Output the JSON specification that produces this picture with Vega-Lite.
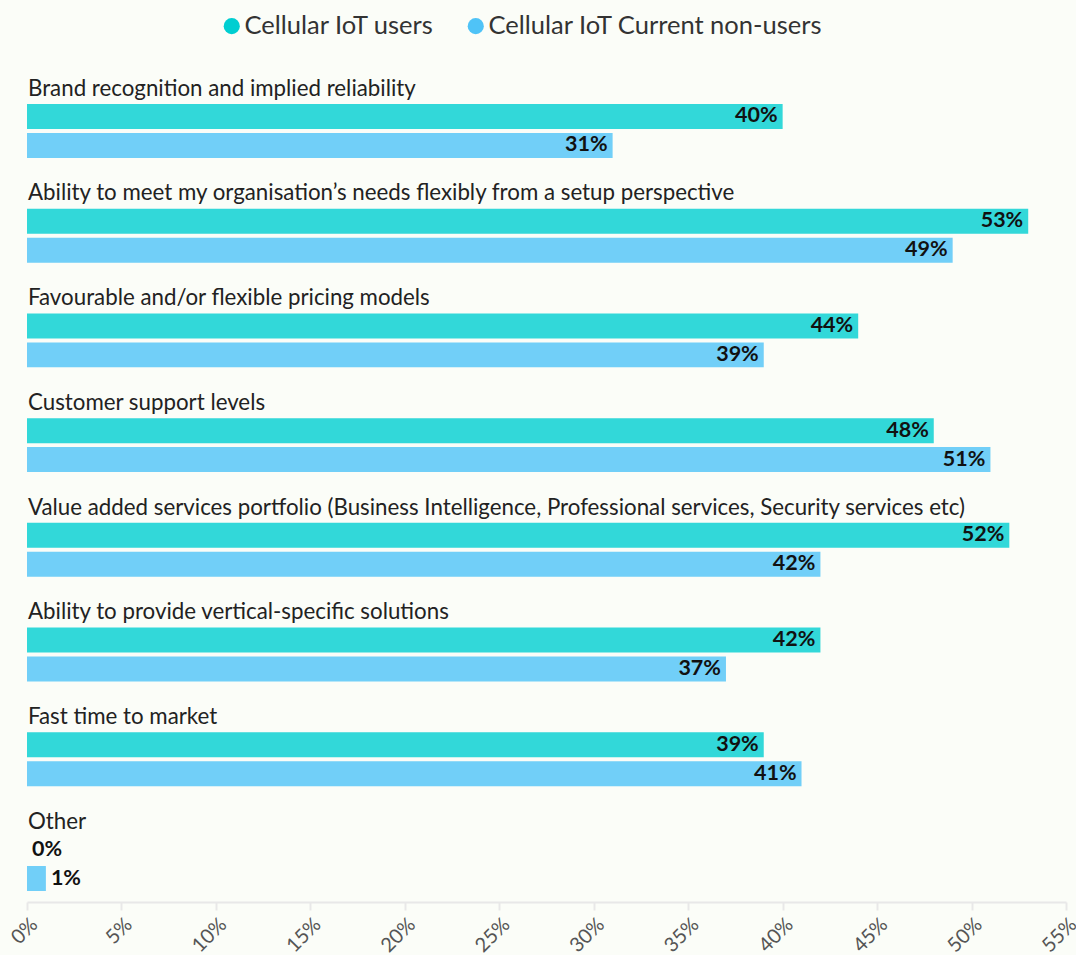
{
  "$schema": "https://vega.github.io/schema/vega-lite/v6.json",
  "width": 1039,
  "height": 820,
  "autosize": {"type": "none"},
  "padding": {"top": 73, "left": 27, "right": 10, "bottom": 62},
  "background": "#fbfdf8",
  "config": {"view": {"stroke": null}, "font": "Lato"},
  "data": {
    "values": [
      {"cat": "Brand recognition and implied reliability", "series": "Cellular IoT users", "value": 0.40},
      {"cat": "Brand recognition and implied reliability", "series": "Cellular IoT Current non-users", "value": 0.31},
      {"cat": "Ability to meet my organisation’s needs flexibly from a setup perspective", "series": "Cellular IoT users", "value": 0.53},
      {"cat": "Ability to meet my organisation’s needs flexibly from a setup perspective", "series": "Cellular IoT Current non-users", "value": 0.49},
      {"cat": "Favourable and/or flexible pricing models", "series": "Cellular IoT users", "value": 0.44},
      {"cat": "Favourable and/or flexible pricing models", "series": "Cellular IoT Current non-users", "value": 0.39},
      {"cat": "Customer support levels", "series": "Cellular IoT users", "value": 0.48},
      {"cat": "Customer support levels", "series": "Cellular IoT Current non-users", "value": 0.51},
      {"cat": "Value added services portfolio (Business Intelligence, Professional services, Security services etc)", "series": "Cellular IoT users", "value": 0.52},
      {"cat": "Value added services portfolio (Business Intelligence, Professional services, Security services etc)", "series": "Cellular IoT Current non-users", "value": 0.42},
      {"cat": "Ability to provide vertical-specific solutions", "series": "Cellular IoT users", "value": 0.42},
      {"cat": "Ability to provide vertical-specific solutions", "series": "Cellular IoT Current non-users", "value": 0.37},
      {"cat": "Fast time to market", "series": "Cellular IoT users", "value": 0.39},
      {"cat": "Fast time to market", "series": "Cellular IoT Current non-users", "value": 0.41},
      {"cat": "Other", "series": "Cellular IoT users", "value": 0.0},
      {"cat": "Other", "series": "Cellular IoT Current non-users", "value": 0.01}
    ]
  },
  "encoding": {
    "y": {"field": "cat", "type": "nominal", "sort": null, "axis": null,
      "scale": {"paddingInner": 0.17, "paddingOuter": 0}}
  },
  "layer": [
    {
      "mark": {"type": "bar", "opacity": 0.8},
      "encoding": {
        "x": {"field": "value", "type": "quantitative",
          "scale": {"domain": [0, 0.55], "nice": false},
          "axis": {"values": [0, 0.05, 0.1, 0.15, 0.2, 0.25, 0.3, 0.35, 0.4, 0.45, 0.5, 0.55],
            "format": ".0%", "title": null, "grid": false, "offset": 9,
            "domainColor": "#e8e8e8", "domainWidth": 2, "tickColor": "#e8e8e8", "tickWidth": 2, "tickSize": 8,
            "labelAngle": -45, "labelFontSize": 20, "labelColor": "#555555", "labelFont": "Lato", "labelPadding": 4, "labelDx": -4}},
        "yOffset": {"field": "series", "type": "nominal",
          "scale": {"domain": ["label", "Cellular IoT users", "Cellular IoT Current non-users"], "paddingInner": 0.138, "paddingOuter": 0.069}},
        "color": {"field": "series", "type": "nominal",
          "scale": {"domain": ["Cellular IoT users", "Cellular IoT Current non-users"], "range": ["#00CED1", "#4FC3F7"]},
          "legend": {"title": null, "orient": "none", "legendX": 192, "legendY": -60, "direction": "horizontal",
            "symbolType": "circle", "symbolSize": 260, "symbolOpacity": 1, "labelFontSize": 25.5, "labelFont": "Lato",
            "labelColor": "#333333", "columnPadding": 28, "labelOffset": 0, "labelLimit": 600}}
      }
    },
    {
      "transform": [{"filter": "datum.value >= 0.05"}],
      "mark": {"type": "text", "align": "right", "dx": -5, "baseline": "middle", "fontSize": 21.5, "fontWeight": "bold", "color": "#111111"},
      "encoding": {
        "x": {"field": "value", "type": "quantitative"},
        "yOffset": {"field": "series", "type": "nominal"},
        "text": {"field": "value", "type": "quantitative", "format": ".0%"}
      }
    },
    {
      "transform": [{"filter": "datum.value < 0.05"}],
      "mark": {"type": "text", "align": "left", "dx": 5, "baseline": "middle", "fontSize": 21.5, "fontWeight": "bold", "color": "#111111"},
      "encoding": {
        "x": {"field": "value", "type": "quantitative"},
        "yOffset": {"field": "series", "type": "nominal"},
        "text": {"field": "value", "type": "quantitative", "format": ".0%"}
      }
    },
    {
      "transform": [{"filter": "datum.series == 'Cellular IoT users'"}],
      "mark": {"type": "text", "align": "left", "dx": 1, "baseline": "middle", "fontSize": 22.3, "color": "#222222"},
      "encoding": {
        "x": {"datum": 0, "type": "quantitative"},
        "y": {"field": "cat", "type": "nominal", "sort": null, "bandPosition": 0.18},
        "text": {"field": "cat", "type": "nominal"}
      }
    }
  ]
}
